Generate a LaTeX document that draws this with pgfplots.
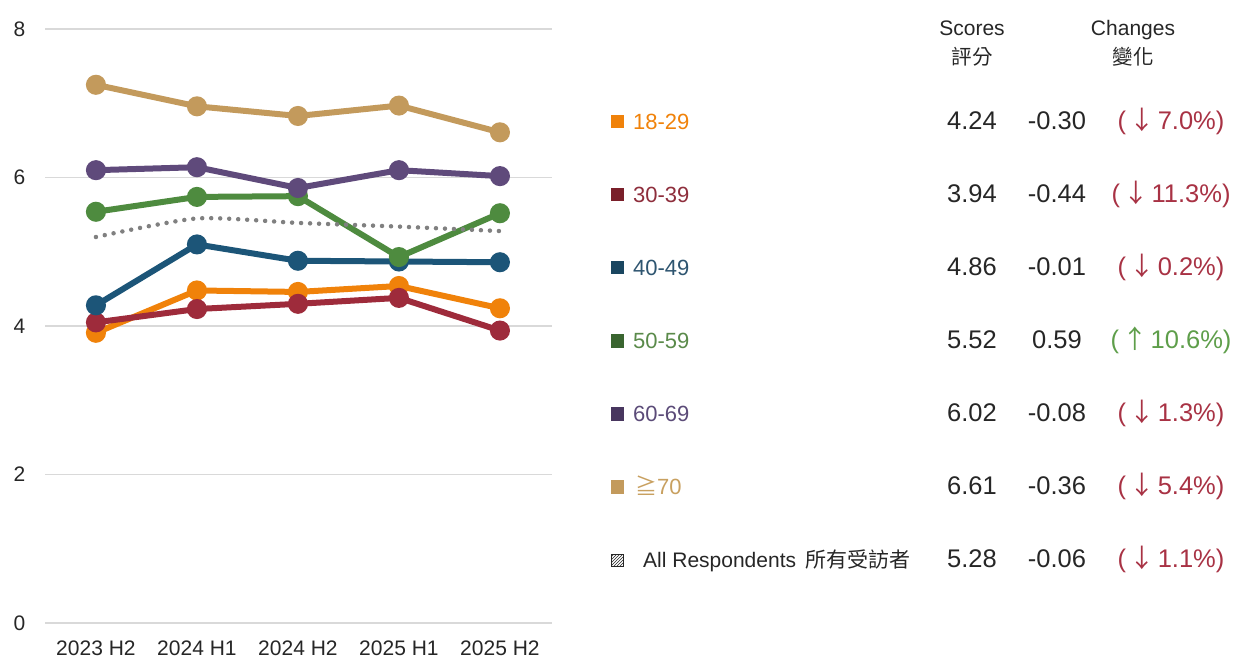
\documentclass[border=0pt]{standalone}
\usepackage{pgfplots}
\pgfplotsset{compat=1.18}
\usepackage{fontspec}
\setmainfont{Liberation Sans}
\newfontfamily\cjk{Noto Sans CJK TC}
\usetikzlibrary{patterns}

\definecolor{cOr}{HTML}{F0820A}
\definecolor{cRd}{HTML}{9E2B3B}
\definecolor{cBl}{HTML}{1C5578}
\definecolor{cGr}{HTML}{4E8B3F}
\definecolor{cPu}{HTML}{5F4A7B}
\definecolor{cTa}{HTML}{C39A5C}
\definecolor{cDot}{HTML}{808080}
\definecolor{sqRd}{HTML}{7A1F2A}
\definecolor{sqBl}{HTML}{1A4660}
\definecolor{sqGr}{HTML}{3A6530}
\definecolor{sqPu}{HTML}{48365F}
\definecolor{tRd}{HTML}{8E2E3C}
\definecolor{tBl}{HTML}{2E5570}
\definecolor{tGr}{HTML}{5A8A4A}
\definecolor{tPu}{HTML}{5B4B78}
\definecolor{tTa}{HTML}{C8A060}
\definecolor{pDown}{HTML}{A83244}
\definecolor{pUp}{HTML}{5E9E4A}
\definecolor{gridc}{HTML}{D9D9D9}
\definecolor{txt}{HTML}{262626}

\newcommand{\fsz}[1]{\fontsize{#1}{#1}\selectfont}
\newcommand{\dn}{\hspace{0.12em}{\cjk ↓}\hspace{0.12em}}
\newcommand{\up}{\hspace{0.12em}{\cjk ↑}\hspace{0.12em}}

\begin{document}
\begin{tikzpicture}[x=1pt,y=1pt]
\path[use as bounding box] (0,0) rectangle (1233,658);
\begin{axis}[
  at={(45,47)}, anchor=south west,
  scale only axis, width=507pt, height=594pt,
  xmin=-0.5, xmax=4.52, ymin=0, ymax=8,
  xtick={0,1,2,3,4},
  xticklabels={2023 H2,2024 H1,2024 H2,2025 H1,2025 H2},
  ytick={0,2,4,6,8},
  axis line style={draw=none},
  major tick length=0pt,
  ymajorgrids, grid style={line width=1.6pt, color=gridc},
  tick label style={font=\fsz{21}, color=txt, inner sep=0pt},
  xticklabel style={anchor=north, yshift=-17.5pt},
  yticklabel style={anchor=east, xshift=-20pt},
  /pgf/number format/assume math mode=true,
  clip=false,
  every axis plot/.append style={line width=6pt, mark=*, mark size=7pt, mark options={solid}},
]
\addplot[color=cOr] coordinates {(0,3.91) (1,4.48) (2,4.46) (3,4.54) (4,4.24)};
\addplot[color=cRd] coordinates {(0,4.05) (1,4.23) (2,4.30) (3,4.38) (4,3.94)};
\addplot[color=cBl] coordinates {(0,4.28) (1,5.10) (2,4.88) (3,4.87) (4,4.86)};
\addplot[color=cGr] coordinates {(0,5.54) (1,5.74) (2,5.75) (3,4.93) (4,5.52)};
\addplot[color=cPu] coordinates {(0,6.10) (1,6.14) (2,5.86) (3,6.10) (4,6.02)};
\addplot[color=cTa] coordinates {(0,7.25) (1,6.96) (2,6.83) (3,6.97) (4,6.61)};
\addplot[color=cDot, line width=4.5pt, no marks, smooth, tension=0.4, line cap=round, dash pattern=on 0pt off 9pt] coordinates {(0,5.20) (1,5.45) (2,5.39) (3,5.34) (4,5.28)};
\end{axis}

% headers
\node[anchor=base, inner sep=0, color=txt, font=\fsz{21}] at (972,622) {Scores};
\node[anchor=base, inner sep=0, color=txt, font=\fsz{21}] at (1133,622) {Changes};
\node[anchor=base, inner sep=0, color=txt, font=\cjk\fsz{20.5}] at (972,593) {評分};
\node[anchor=base, inner sep=0, color=txt, font=\cjk\fsz{20.5}] at (1133,593) {變化};

% rows
\fill[cOr] (611,529.7) rectangle (624,543);
\node[anchor=base west, inner sep=0, color=cOr, font=\fsz{22}] at (633,528.7) {18-29};
\node[anchor=base, inner sep=0, color=txt, font=\fsz{25.5}] at (972,528.7) {4.24};
\node[anchor=base, inner sep=0, color=txt, font=\fsz{25.5}] at (1057,528.7) {-0.30};
\node[anchor=base, inner sep=0, color=pDown, font=\fsz{25.5}] at (1171,528.7) {(\dn7.0\%)};

\fill[sqRd] (611,456.6) rectangle (624,469.9);
\node[anchor=base west, inner sep=0, color=tRd, font=\fsz{22}] at (633,455.6) {30-39};
\node[anchor=base, inner sep=0, color=txt, font=\fsz{25.5}] at (972,455.6) {3.94};
\node[anchor=base, inner sep=0, color=txt, font=\fsz{25.5}] at (1057,455.6) {-0.44};
\node[anchor=base, inner sep=0, color=pDown, font=\fsz{25.5}] at (1171,455.6) {(\dn11.3\%)};

\fill[sqBl] (611,383.5) rectangle (624,396.8);
\node[anchor=base west, inner sep=0, color=tBl, font=\fsz{22}] at (633,382.5) {40-49};
\node[anchor=base, inner sep=0, color=txt, font=\fsz{25.5}] at (972,382.5) {4.86};
\node[anchor=base, inner sep=0, color=txt, font=\fsz{25.5}] at (1057,382.5) {-0.01};
\node[anchor=base, inner sep=0, color=pDown, font=\fsz{25.5}] at (1171,382.5) {(\dn0.2\%)};

\fill[sqGr] (611,310.4) rectangle (624,323.7);
\node[anchor=base west, inner sep=0, color=tGr, font=\fsz{22}] at (633,309.4) {50-59};
\node[anchor=base, inner sep=0, color=txt, font=\fsz{25.5}] at (972,309.4) {5.52};
\node[anchor=base, inner sep=0, color=txt, font=\fsz{25.5}] at (1057,309.4) {0.59};
\node[anchor=base, inner sep=0, color=pUp, font=\fsz{25.5}] at (1171,309.4) {(\up10.6\%)};

\fill[sqPu] (611,237.3) rectangle (624,250.6);
\node[anchor=base west, inner sep=0, color=tPu, font=\fsz{22}] at (633,236.3) {60-69};
\node[anchor=base, inner sep=0, color=txt, font=\fsz{25.5}] at (972,236.3) {6.02};
\node[anchor=base, inner sep=0, color=txt, font=\fsz{25.5}] at (1057,236.3) {-0.08};
\node[anchor=base, inner sep=0, color=pDown, font=\fsz{25.5}] at (1171,236.3) {(\dn1.3\%)};

\fill[cTa] (611,164.2) rectangle (624,177.5);
\node[anchor=base west, inner sep=0, color=tTa, font=\fsz{22}] at (635,163.2) {{\cjk ≧}70};
\node[anchor=base, inner sep=0, color=txt, font=\fsz{25.5}] at (972,163.2) {6.61};
\node[anchor=base, inner sep=0, color=txt, font=\fsz{25.5}] at (1057,163.2) {-0.36};
\node[anchor=base, inner sep=0, color=pDown, font=\fsz{25.5}] at (1171,163.2) {(\dn5.4\%)};

\draw[line width=1.2pt, color=txt, pattern=north east lines, pattern color=txt] (611.6,91.7) rectangle (623.4,103.8);
\node[anchor=base west, inner sep=0, color=txt, font=\fsz{21}] at (643,90.1) {All Respondents\hspace{0.45em}{\cjk 所有受訪者}};
\node[anchor=base, inner sep=0, color=txt, font=\fsz{25.5}] at (972,90.1) {5.28};
\node[anchor=base, inner sep=0, color=txt, font=\fsz{25.5}] at (1057,90.1) {-0.06};
\node[anchor=base, inner sep=0, color=pDown, font=\fsz{25.5}] at (1171,90.1) {(\dn1.1\%)};
\end{tikzpicture}
\end{document}
